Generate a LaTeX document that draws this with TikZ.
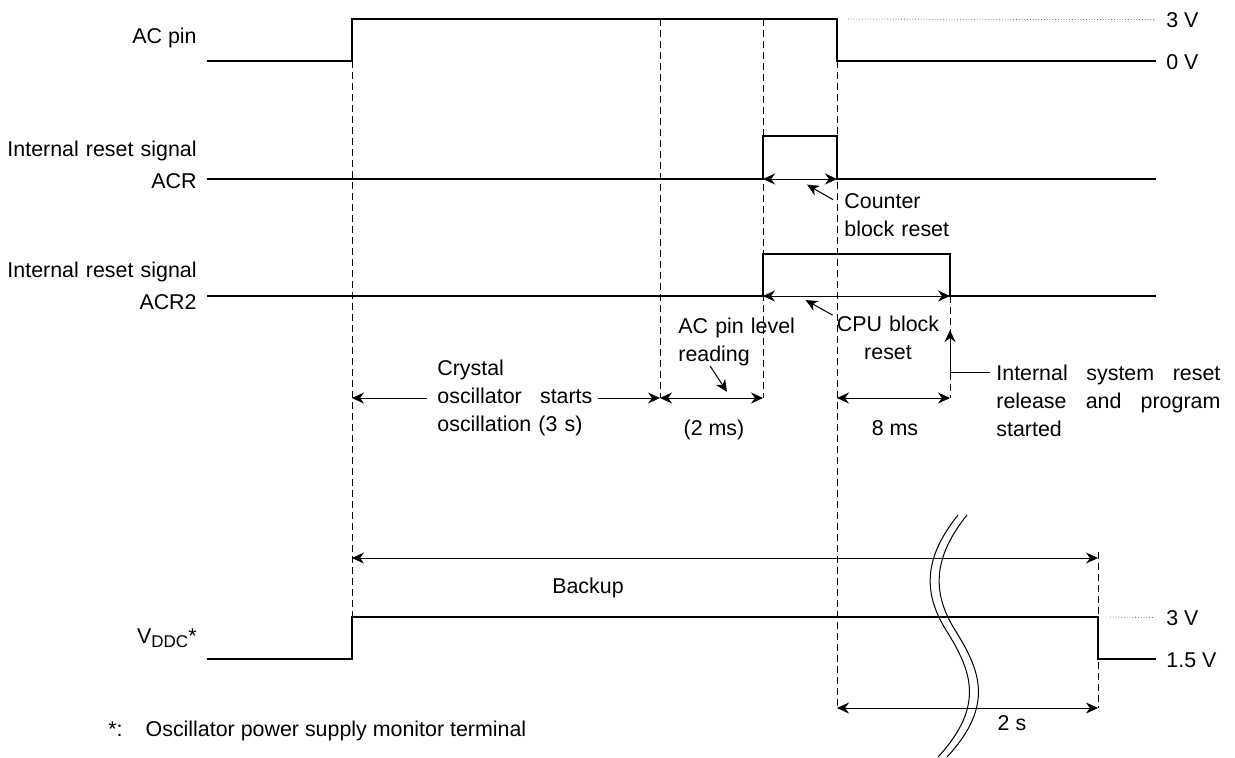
\documentclass[tikz,border=0pt]{standalone}
\usepackage{fontspec}
\setmainfont{Liberation Sans}
\usetikzlibrary{arrows.meta, positioning}

\begin{document}
\begin{tikzpicture}[
    x=0.5pt, y=-0.5pt,
    font=\fontsize{10.7}{14}\selectfont,
    sig/.style={line width=1.3pt},
    guide/.style={dash pattern=on 3.5pt off 2pt, line width=0.45pt},
    lvl/.style={densely dotted, line width=0.4pt, black!60},
    dim/.style={{Stealth[length=6pt,width=5.5pt]}-{Stealth[length=6pt,width=5.5pt]}, line width=0.5pt},
    ptr/.style={-{Stealth[length=6pt,width=5.5pt]}, line width=0.5pt},
    lbl/.style={inner sep=0pt, align=left},
    brk/.style={line width=0.5pt}
]
\useasboundingbox (0,0) rectangle (1235,757);

% signal names
\node[lbl, anchor=base east] (acpin) at (197,43) {AC pin};
\node[lbl, align=right, text width=100pt, anchor=base east] (acrlbl) at (197,156) {Internal reset signal\\[2pt]ACR};
\node[lbl, align=right, text width=100pt, anchor=base east] (acr2lbl) at (197,277) {Internal reset signal\\[2pt]ACR2};
\node[lbl, anchor=base east] (vddlbl) at (197,643) {V{\fontsize{8.5}{10}\selectfont\raisebox{-2.2pt}{DDC}}*};

% waveforms
\draw[sig] (207,61) -- (352,61) -- (352,19) -- (837,19) -- (837,61) -- (1156,61);
\draw[sig] (207,179) -- (763,179) -- (763,136) -- (837,136) -- (837,179) -- (1156,179);
\draw[sig] (207,296) -- (763,296) -- (763,254) -- (950,254) -- (950,296) -- (1156,296);
\draw[sig] (207,659) -- (352,659) -- (352,617) -- (1098,617) -- (1098,659) -- (1156,659);

% levels
\node[lbl, anchor=base west] (v3a) at (1166,27) {3 V};
\node[lbl, anchor=base west] (v0) at (1166,69) {0 V};
\node[lbl, anchor=base west] (v3b) at (1166,625) {3 V};
\node[lbl, anchor=base west] (v15) at (1166,667) {1.5 V};
\coordinate (achi) at (848,19);
\coordinate (vddhi) at (1110,617);
\draw[lvl] (achi) -- ([xshift=-5.5pt]v3a.west);
\draw[lvl] (vddhi) -- ([xshift=-5.5pt]v3b.west);

% timing guides
\coordinate (g1t) at (352,61);   \coordinate (g1b) at (352,617);
\coordinate (g2t) at (660,19);   \coordinate (g2b) at (660,398);
\coordinate (g3t) at (763,19);   \coordinate (g3b) at (763,398);
\coordinate (g4t) at (837,61);   \coordinate (g4b) at (837,708);
\coordinate (g5t) at (950,296);  \coordinate (g5b) at (950,398);
\coordinate (g6t) at (1098,552); \coordinate (g6b) at (1098,708);
\draw[guide] (g1t) -- (g1b);
\draw[guide] (g2t) -- (g2b);
\draw[guide] (g3t) -- (g3b);
\draw[guide] (g4t) -- (g4b);
\draw[guide] (g5t) -- (g5b);
\draw[guide] (g6t) -- (g6b);

% rows of the dimension arrows
\coordinate (rowacr) at (0,179);
\coordinate (rowacrb) at (0,296);
\coordinate (rowmeas) at (0,398);
\coordinate (rowbk) at (0,558);
\coordinate (rowts) at (0,708);

\draw[dim] (g3t |- rowacr) -- (g4t |- rowacr);
\draw[dim] (g3t |- rowacrb) -- (g5t |- rowacrb);

% annotations
\node[lbl, text width=77.5pt, anchor=base west] (crys) at (437,375) {Crystal\\oscillator\hfill starts\\oscillation (3 s)};
\node[lbl, text width=64pt, anchor=base west] (acrd) at (678,333) {AC pin level\\reading};
\node[lbl, anchor=base] (tms) at (714,435) {(2 ms)};
\node[lbl, text width=53pt, anchor=base west] (cnt) at (844,208) {Counter\\block reset};
\node[lbl, align=center, text width=55pt, anchor=base] (cpu) at (888,331) {CPU block\\reset};
\node[lbl, anchor=base] (ems) at (895,435) {8 ms};
\node[lbl, text width=112pt, anchor=base west] (sysrst) at (996,380) {Internal\hfill system\hfill reset\\release\hfill and\hfill program\\started};
\node[lbl, anchor=base] (bkup) at (588,593) {Backup};
\node[lbl, anchor=base] (tsec) at (1012,730) {2 s};
\node[lbl, anchor=base west] (note) at (108,736) {*:\hspace{11.5pt}Oscillator power supply monitor terminal};

\draw[ptr] ([xshift=-5pt]crys.west |- rowmeas) -- (g1t |- rowmeas);
\draw[ptr] ([xshift=2.5pt]crys.east |- rowmeas) -- (g2t |- rowmeas);
\draw[dim] (g2t |- rowmeas) -- (g3t |- rowmeas);
\draw[dim] (g4t |- rowmeas) -- (g5t |- rowmeas);
\draw[ptr] ([xshift=16pt]acrd.south west) -- ++(17,26);
\draw[ptr] ([shift={(-11,7)}]cnt.north west) -- ++(-26,-15);
\draw[ptr] (cpu.north west) -- ++(-27,-15);
\coordinate (sysup) at (950,330);
\draw[ptr] ([shift={(-6,-8)}]sysrst.base west) -| (sysup);
\draw[dim] (g1t |- rowbk) -- (g6t |- rowbk);
\draw[dim] (g4t |- rowts) -- (g6t |- rowts);

% break mark
\foreach \dx in {0,9}
  \draw[brk, shift={(\dx,0)}] (958,515) .. controls (926,555) and (921,590) .. (946,630)
    .. controls (971,670) and (986,705) .. (938,757);

\end{tikzpicture}
\end{document}
